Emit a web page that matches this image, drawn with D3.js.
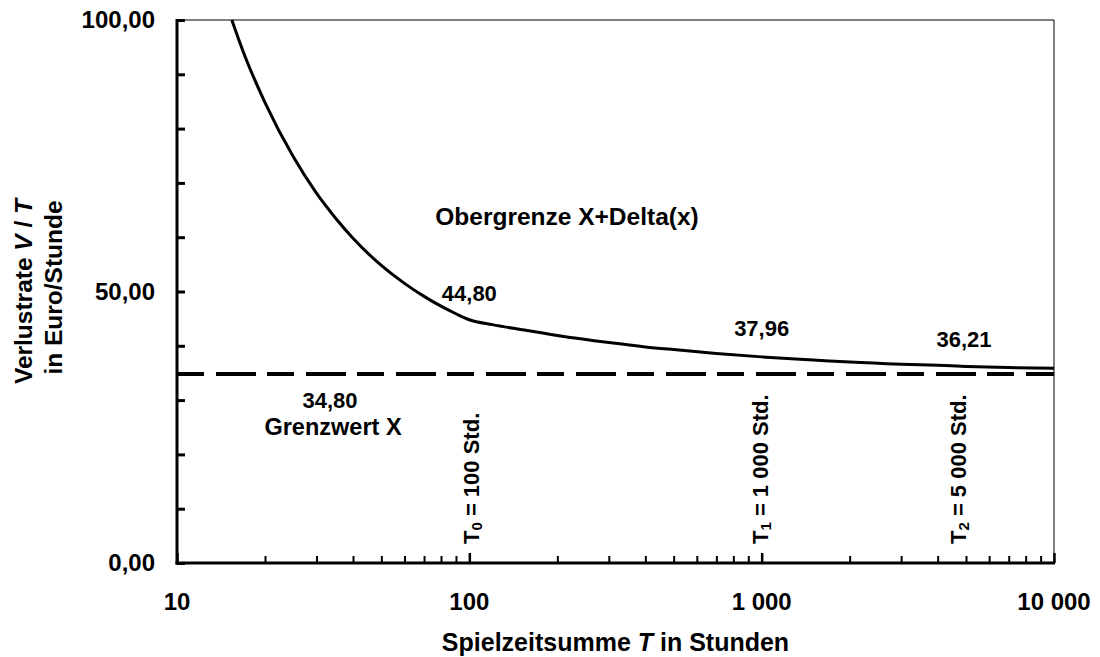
<!DOCTYPE html>
<html>
<head>
<meta charset="utf-8">
<script src="https://cdn.jsdelivr.net/npm/d3@7"></script>
<style>
  html, body { margin: 0; padding: 0; background: #fff; }
  svg { display: block; }
  text { font-family: Arial, "Liberation Sans", sans-serif; font-weight: bold; fill: #000; }
</style>
</head>
<body>
<svg id="chart" width="1100" height="657"></svg>
<script>
// ---- Data ----
const spielzeit = [15.4, 17, 20, 25, 30, 35, 40, 50, 60, 70, 80, 90, 100, 120, 150, 200, 300, 400, 500, 700, 1000, 1500, 2000, 3000, 4000, 5000, 7000, 10000];
const obergrenze = [100, 93.6, 84.8, 74.8, 68.1, 63.4, 59.8, 54.8, 51.5, 49.1, 47.3, 45.9, 44.8, 43.9, 43.0, 41.9, 40.6, 39.8, 39.3, 38.6, 37.96, 37.4, 37.0, 36.6, 36.4, 36.21, 36.0, 35.85];
const grenzwert = 34.8;
const markedT = [100, 1000, 5000];
const markedValues = [44.80, 37.96, 36.21];
const markedValueLabels = ["44,80", "37,96", "36,21"];
const yTickValues = [0, 50, 100];
const yTickLabels = ["0,00", "50,00", "100,00"];
const xTickValues = [10, 100, 1000, 10000];
const xTickLabels = ["10", "100", "1 000", "10 000"];

const svg = d3.select("#chart");
const L = 177, R = 1054, T = 20, B = 563;

const x = d3.scaleLog().domain([10, 10000]).range([L, R]);
const y = d3.scaleLinear().domain([0, 100]).range([B, T]);

// thin frame top/right
svg.append("line").attr("x1", L).attr("x2", R).attr("y1", T).attr("y2", T)
  .attr("stroke", "#000").attr("stroke-width", 1);
svg.append("line").attr("x1", R).attr("x2", R).attr("y1", T).attr("y2", B)
  .attr("stroke", "#000").attr("stroke-width", 1);

// Y axis (ticks inward)
const yAxis = d3.axisRight(y).tickValues(d3.range(0, 101, 10)).tickSize(8).tickFormat("");
const gy = svg.append("g").attr("transform", `translate(${L},0)`).call(yAxis);
gy.select(".domain").remove();
gy.selectAll(".tick line").attr("stroke", "#000").attr("stroke-width", 3);
svg.append("line").attr("x1", L).attr("x2", L).attr("y1", T - 1).attr("y2", B + 1.5)
  .attr("stroke", "#000").attr("stroke-width", 3);

yTickValues.forEach((v, i) => {
  svg.append("text").attr("x", L - 22).attr("y", y(v)).attr("dy", "0.35em")
    .attr("text-anchor", "end").style("font-size", "24px").text(yTickLabels[i]);
});

// X axis (log, ticks inward)
const minorTicks = [];
for (let d = 10; d < 10000; d *= 10) for (let k = 2; k <= 9; k++) minorTicks.push(d * k);
const gxMinor = svg.append("g").attr("transform", `translate(0,${B})`)
  .call(d3.axisTop(x).tickValues(minorTicks).tickSize(7).tickFormat(""));
gxMinor.select(".domain").remove();
gxMinor.selectAll(".tick line").attr("stroke", "#000").attr("stroke-width", 2);
const gxMajor = svg.append("g").attr("transform", `translate(0,${B})`)
  .call(d3.axisTop(x).tickValues(xTickValues).tickSize(10).tickFormat(""));
gxMajor.select(".domain").remove();
gxMajor.selectAll(".tick line").attr("stroke", "#000").attr("stroke-width", 2.5);
svg.append("line").attr("x1", L - 1.5).attr("x2", R + 1).attr("y1", B).attr("y2", B)
  .attr("stroke", "#000").attr("stroke-width", 3);

xTickValues.forEach((v, i) => {
  svg.append("text").attr("x", x(v)).attr("y", 610)
    .attr("text-anchor", "middle").style("font-size", "24px").text(xTickLabels[i]);
});

// Axis titles
const xt = svg.append("text").attr("x", (L + R) / 2).attr("y", 651)
  .attr("text-anchor", "middle").style("font-size", "25px");
xt.append("tspan").text("Spielzeitsumme ");
xt.append("tspan").style("font-style", "italic").text("T");
xt.append("tspan").text(" in Stunden");

const yt1 = svg.append("text").attr("transform", `translate(32,${(T + B) / 2}) rotate(-90)`)
  .attr("text-anchor", "middle").style("font-size", "24.5px");
yt1.append("tspan").text("Verlustrate ");
yt1.append("tspan").style("font-style", "italic").text("V");
yt1.append("tspan").text("  / ");
yt1.append("tspan").style("font-style", "italic").text("T");
svg.append("text").attr("transform", `translate(62,${(T + B) / 2 - 4}) rotate(-90)`)
  .attr("text-anchor", "middle").style("font-size", "24.5px").text("in Euro/Stunde");

// Grenzwert dashed line
svg.append("line").attr("x1", L).attr("x2", R).attr("y1", y(grenzwert)).attr("y2", y(grenzwert))
  .attr("stroke", "#000").attr("stroke-width", 4).attr("stroke-dasharray", "27,12,40,11");

// Obergrenze curve
const pts = spielzeit.map((t, i) => [t, obergrenze[i]]);
svg.append("path").datum(pts)
  .attr("fill", "none").attr("stroke", "#000").attr("stroke-width", 3)
  .attr("stroke-linejoin", "round")
  .attr("d", d3.line().x(d => x(d[0])).y(d => y(d[1])).curve(d3.curveMonotoneX));

// value labels at marked points
const labelOffsets = [[0, -19], [0, -21], [-2, -19]];
markedT.forEach((t, i) => {
  svg.append("text").attr("x", x(t) + labelOffsets[i][0]).attr("y", y(markedValues[i]) + labelOffsets[i][1])
    .attr("text-anchor", "middle").style("font-size", "22px").text(markedValueLabels[i]);
});

// Grenzwert labels
svg.append("text").attr("x", 330).attr("y", y(grenzwert) + 34)
  .attr("text-anchor", "middle").style("font-size", "22px").text("34,80");
svg.append("text").attr("x", 333).attr("y", 435)
  .attr("text-anchor", "middle").style("font-size", "23.5px").text("Grenzwert X");
svg.append("text").attr("x", 567).attr("y", 225)
  .attr("text-anchor", "middle").style("font-size", "24.5px").text("Obergrenze X+Delta(x)");

// vertical T labels
const vLabels = [
  { sub: "0", rest: " = 100 Std.", dx: 10 },
  { sub: "1", rest: " = 1 000 Std.", dx: 6 },
  { sub: "2", rest: " = 5 000 Std.", dx: 0 }
];
markedT.forEach((t, i) => {
  const v = vLabels[i];
  const tx = svg.append("text").attr("transform", `translate(${x(t) + v.dx},544) rotate(-90)`)
    .attr("text-anchor", "start").style("font-size", "22px");
  tx.append("tspan").text("T");
  tx.append("tspan").attr("dy", 3).style("font-size", "15px").text(v.sub);
  tx.append("tspan").attr("dy", -3).text(v.rest);
});
</script>
</body>
</html>
